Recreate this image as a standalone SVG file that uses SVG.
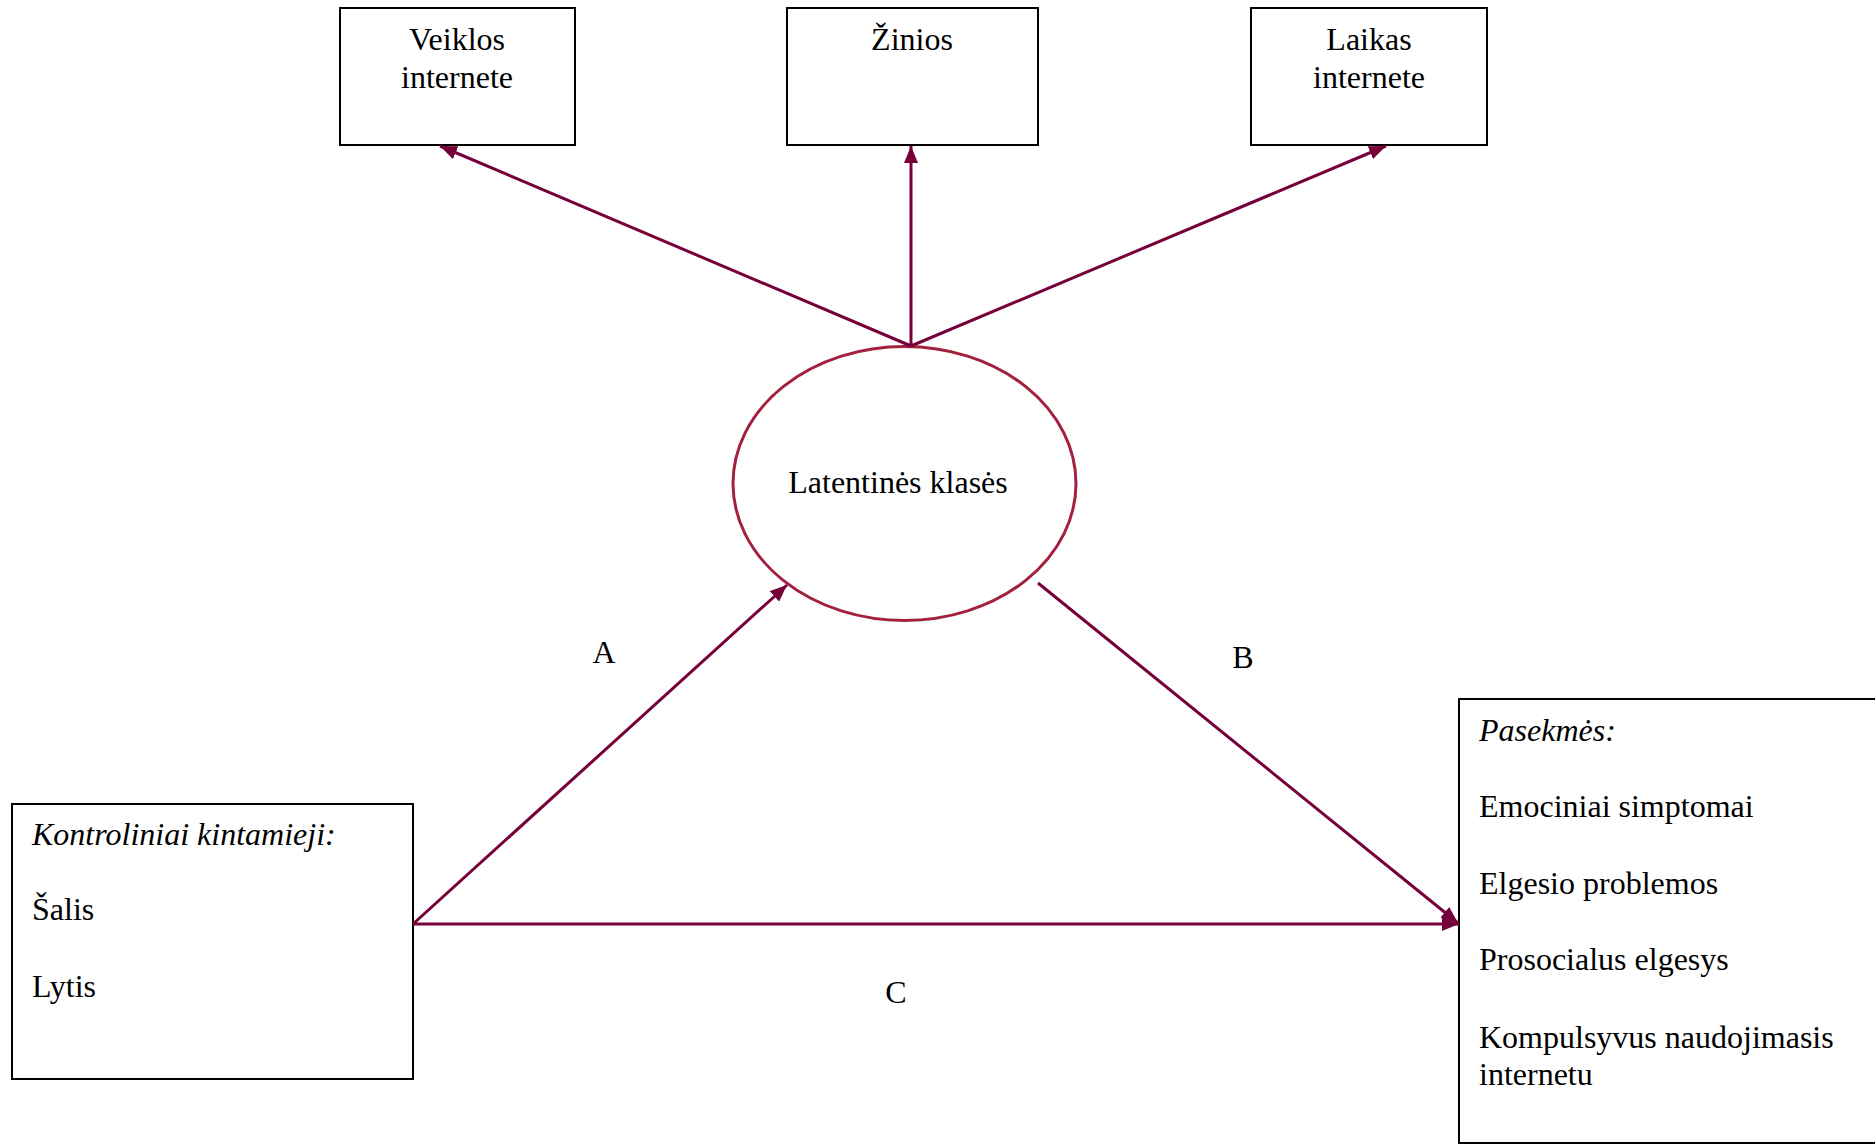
<svg xmlns="http://www.w3.org/2000/svg" width="1875" height="1144" viewBox="0 0 1875 1144">
<style>
.box{fill:#fff;stroke:#000;stroke-width:2}
.t{font-family:"Liberation Serif","Times New Roman",serif;font-size:32px;fill:#000}
.c{text-anchor:middle}
.i{font-style:italic}
.con{stroke:#76003A;stroke-width:3;fill:none}
.ell{fill:#fff;stroke:#A3213F;stroke-width:3}
</style>
<defs>
<marker id="arr" markerUnits="userSpaceOnUse" markerWidth="18" markerHeight="14" refX="17" refY="7" orient="auto">
<path d="M0,0 L17,7 L0,14 z" fill="#76003A"/>
</marker>
</defs>
<rect width="1875" height="1144" fill="#fff"/>
<g id="node-veiklos">
<rect class="box" x="340" y="8" width="235" height="137"/>
<text class="t c" x="457" y="50">Veiklos</text>
<text class="t c" x="457" y="88">internete</text>
</g>
<g id="node-zinios">
<rect class="box" x="787" y="8" width="251" height="137"/>
<text class="t c" x="912" y="50">Žinios</text>
</g>
<g id="node-laikas">
<rect class="box" x="1251" y="8" width="236" height="137"/>
<text class="t c" x="1369" y="50">Laikas</text>
<text class="t c" x="1369" y="88">internete</text>
</g>
<g id="node-latent">
<ellipse class="ell" cx="904.5" cy="483.5" rx="171.5" ry="137"/>
<text class="t c" x="898" y="493">Latentinės klasės</text>
</g>
<g id="node-kontroliniai">
<rect class="box" x="12" y="804" width="401" height="275"/>
<text class="t i" x="32" y="845">Kontroliniai kintamieji:</text>
<text class="t" x="32" y="920">Šalis</text>
<text class="t" x="32" y="997">Lytis</text>
</g>
<g id="node-pasekmes">
<rect class="box" x="1459" y="699" width="440" height="444"/>
<text class="t i" x="1479" y="741">Pasekmės:</text>
<text class="t" x="1479" y="817">Emociniai simptomai</text>
<text class="t" x="1479" y="894">Elgesio problemos</text>
<text class="t" x="1479" y="970">Prosocialus elgesys</text>
<text class="t" x="1479" y="1048">Kompulsyvus naudojimasis</text>
<text class="t" x="1479" y="1085">internetu</text>
</g>
<g id="connectors">
<line class="con" x1="911" y1="346" x2="440" y2="146" marker-end="url(#arr)"/>
<line class="con" x1="911" y1="346" x2="911" y2="146" marker-end="url(#arr)"/>
<line class="con" x1="911" y1="346" x2="1386" y2="146" marker-end="url(#arr)"/>
<line class="con" x1="413" y1="924" x2="787" y2="585" marker-end="url(#arr)"/>
<line class="con" x1="1038" y1="583" x2="1458" y2="923" marker-end="url(#arr)"/>
<line class="con" x1="413" y1="924" x2="1459" y2="924" marker-end="url(#arr)"/>
<text class="t c" x="604" y="663">A</text>
<text class="t c" x="1243" y="668">B</text>
<text class="t c" x="896" y="1003">C</text>
</g>
</svg>
